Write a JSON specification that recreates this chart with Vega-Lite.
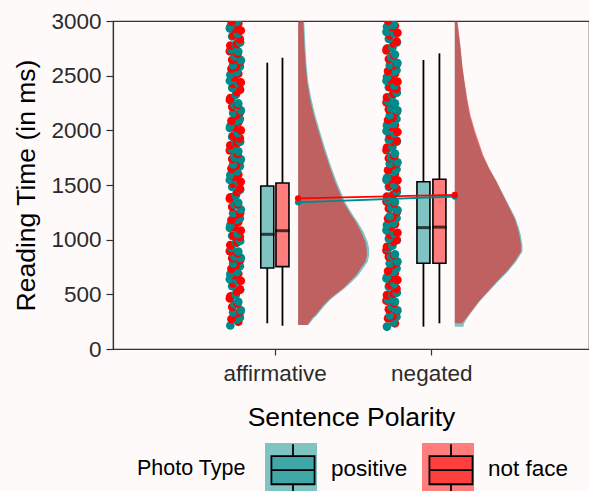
{
"$schema":"https://vega.github.io/schema/vega-lite/v6.json",
"width":476,"height":328,
"autosize":{"type":"none"},
"padding":{"left":113,"top":21,"right":0,"bottom":142},
"background":"#fffafa",
"config":{"font":"Liberation Sans","view":{"stroke":"#333333","strokeWidth":1.2},
"axis":{"grid":false,"domainColor":"#333333","tickColor":"#333333","labelColor":"#2b2b2b","titleColor":"#000000","titleFontWeight":"normal","domainWidth":1.2,"tickWidth":1.2,"labelFlush":false}},
"datasets":{
"points":[
{"photo":"positive","x":0.717,"rt":215},{"photo":"not face","x":0.768,"rt":250},
{"photo":"positive","x":0.759,"rt":271},{"photo":"not face","x":0.724,"rt":274},
{"photo":"positive","x":0.778,"rt":288},{"photo":"not face","x":0.752,"rt":325},
{"photo":"positive","x":0.735,"rt":335},{"photo":"not face","x":0.780,"rt":338},
{"photo":"positive","x":0.784,"rt":353},{"photo":"not face","x":0.729,"rt":384},
{"photo":"positive","x":0.744,"rt":408},{"photo":"not face","x":0.764,"rt":417},
{"photo":"positive","x":0.768,"rt":432},{"photo":"not face","x":0.714,"rt":463},
{"photo":"positive","x":0.724,"rt":483},{"photo":"not face","x":0.717,"rt":480},
{"photo":"positive","x":0.752,"rt":496},{"photo":"not face","x":0.759,"rt":527},
{"photo":"positive","x":0.780,"rt":542},{"photo":"not face","x":0.778,"rt":545},
{"photo":"positive","x":0.729,"rt":575},{"photo":"not face","x":0.735,"rt":600},
{"photo":"positive","x":0.764,"rt":621},{"photo":"not face","x":0.784,"rt":624},
{"photo":"positive","x":0.714,"rt":638},{"photo":"not face","x":0.744,"rt":675},
{"photo":"positive","x":0.717,"rt":685},{"photo":"not face","x":0.768,"rt":688},
{"photo":"positive","x":0.759,"rt":703},{"photo":"not face","x":0.724,"rt":734},
{"photo":"positive","x":0.778,"rt":758},{"photo":"not face","x":0.752,"rt":767},
{"photo":"positive","x":0.735,"rt":782},{"photo":"not face","x":0.780,"rt":813},
{"photo":"positive","x":0.784,"rt":833},{"photo":"not face","x":0.729,"rt":830},
{"photo":"positive","x":0.744,"rt":846},{"photo":"not face","x":0.764,"rt":877},
{"photo":"positive","x":0.768,"rt":892},{"photo":"not face","x":0.714,"rt":895},
{"photo":"positive","x":0.724,"rt":925},{"photo":"not face","x":0.717,"rt":950},
{"photo":"positive","x":0.752,"rt":971},{"photo":"not face","x":0.759,"rt":974},
{"photo":"positive","x":0.780,"rt":988},{"photo":"not face","x":0.778,"rt":1025},
{"photo":"positive","x":0.729,"rt":1035},{"photo":"not face","x":0.735,"rt":1038},
{"photo":"positive","x":0.764,"rt":1053},{"photo":"not face","x":0.784,"rt":1084},
{"photo":"positive","x":0.714,"rt":1108},{"photo":"not face","x":0.744,"rt":1117},
{"photo":"positive","x":0.717,"rt":1132},{"photo":"not face","x":0.768,"rt":1163},
{"photo":"positive","x":0.759,"rt":1183},{"photo":"not face","x":0.724,"rt":1180},
{"photo":"positive","x":0.778,"rt":1196},{"photo":"not face","x":0.752,"rt":1227},
{"photo":"positive","x":0.735,"rt":1242},{"photo":"not face","x":0.780,"rt":1245},
{"photo":"positive","x":0.784,"rt":1275},{"photo":"not face","x":0.729,"rt":1300},
{"photo":"positive","x":0.744,"rt":1321},{"photo":"not face","x":0.764,"rt":1324},
{"photo":"positive","x":0.768,"rt":1338},{"photo":"not face","x":0.714,"rt":1375},
{"photo":"positive","x":0.724,"rt":1385},{"photo":"not face","x":0.717,"rt":1388},
{"photo":"positive","x":0.752,"rt":1403},{"photo":"not face","x":0.759,"rt":1434},
{"photo":"positive","x":0.780,"rt":1458},{"photo":"not face","x":0.778,"rt":1467},
{"photo":"positive","x":0.729,"rt":1482},{"photo":"not face","x":0.735,"rt":1513},
{"photo":"positive","x":0.764,"rt":1533},{"photo":"not face","x":0.784,"rt":1530},
{"photo":"positive","x":0.714,"rt":1546},{"photo":"not face","x":0.744,"rt":1577},
{"photo":"positive","x":0.717,"rt":1592},{"photo":"not face","x":0.768,"rt":1595},
{"photo":"positive","x":0.759,"rt":1625},{"photo":"not face","x":0.724,"rt":1650},
{"photo":"positive","x":0.778,"rt":1671},{"photo":"not face","x":0.752,"rt":1674},
{"photo":"positive","x":0.735,"rt":1688},{"photo":"not face","x":0.780,"rt":1725},
{"photo":"positive","x":0.784,"rt":1735},{"photo":"not face","x":0.729,"rt":1738},
{"photo":"positive","x":0.744,"rt":1753},{"photo":"not face","x":0.764,"rt":1784},
{"photo":"positive","x":0.768,"rt":1808},{"photo":"not face","x":0.714,"rt":1817},
{"photo":"positive","x":0.724,"rt":1832},{"photo":"not face","x":0.717,"rt":1863},
{"photo":"positive","x":0.752,"rt":1883},{"photo":"not face","x":0.759,"rt":1880},
{"photo":"positive","x":0.780,"rt":1896},{"photo":"not face","x":0.778,"rt":1927},
{"photo":"positive","x":0.729,"rt":1942},{"photo":"not face","x":0.735,"rt":1945},
{"photo":"positive","x":0.764,"rt":1975},{"photo":"not face","x":0.784,"rt":2000},
{"photo":"positive","x":0.714,"rt":2021},{"photo":"not face","x":0.744,"rt":2024},
{"photo":"positive","x":0.717,"rt":2038},{"photo":"not face","x":0.768,"rt":2075},
{"photo":"positive","x":0.759,"rt":2085},{"photo":"not face","x":0.724,"rt":2088},
{"photo":"positive","x":0.778,"rt":2103},{"photo":"not face","x":0.752,"rt":2134},
{"photo":"positive","x":0.735,"rt":2158},{"photo":"not face","x":0.780,"rt":2167},
{"photo":"positive","x":0.784,"rt":2182},{"photo":"not face","x":0.729,"rt":2213},
{"photo":"positive","x":0.744,"rt":2233},{"photo":"not face","x":0.764,"rt":2230},
{"photo":"positive","x":0.768,"rt":2246},{"photo":"not face","x":0.714,"rt":2277},
{"photo":"positive","x":0.724,"rt":2292},{"photo":"not face","x":0.717,"rt":2295},
{"photo":"positive","x":0.752,"rt":2325},{"photo":"not face","x":0.759,"rt":2350},
{"photo":"positive","x":0.780,"rt":2371},{"photo":"not face","x":0.778,"rt":2374},
{"photo":"positive","x":0.729,"rt":2388},{"photo":"not face","x":0.735,"rt":2425},
{"photo":"positive","x":0.764,"rt":2435},{"photo":"not face","x":0.784,"rt":2438},
{"photo":"positive","x":0.714,"rt":2453},{"photo":"not face","x":0.744,"rt":2484},
{"photo":"positive","x":0.717,"rt":2508},{"photo":"not face","x":0.768,"rt":2517},
{"photo":"positive","x":0.759,"rt":2532},{"photo":"not face","x":0.724,"rt":2563},
{"photo":"positive","x":0.778,"rt":2583},{"photo":"not face","x":0.752,"rt":2580},
{"photo":"positive","x":0.735,"rt":2596},{"photo":"not face","x":0.780,"rt":2627},
{"photo":"positive","x":0.784,"rt":2642},{"photo":"not face","x":0.729,"rt":2645},
{"photo":"positive","x":0.744,"rt":2675},{"photo":"not face","x":0.764,"rt":2700},
{"photo":"positive","x":0.768,"rt":2721},{"photo":"not face","x":0.714,"rt":2724},
{"photo":"positive","x":0.724,"rt":2738},{"photo":"not face","x":0.717,"rt":2775},
{"photo":"positive","x":0.752,"rt":2785},{"photo":"not face","x":0.759,"rt":2788},
{"photo":"positive","x":0.780,"rt":2803},{"photo":"not face","x":0.778,"rt":2834},
{"photo":"positive","x":0.729,"rt":2858},{"photo":"not face","x":0.735,"rt":2867},
{"photo":"positive","x":0.764,"rt":2882},{"photo":"not face","x":0.784,"rt":2913},
{"photo":"positive","x":0.714,"rt":2933},{"photo":"not face","x":0.744,"rt":2930},
{"photo":"positive","x":0.717,"rt":2946},{"photo":"not face","x":0.768,"rt":2977},
{"photo":"positive","x":0.759,"rt":2992},{"photo":"not face","x":0.724,"rt":2995},
{"photo":"positive","x":1.717,"rt":205},{"photo":"not face","x":1.768,"rt":235},
{"photo":"positive","x":1.759,"rt":244},{"photo":"not face","x":1.724,"rt":281},
{"photo":"positive","x":1.778,"rt":295},{"photo":"not face","x":1.752,"rt":298},
{"photo":"positive","x":1.735,"rt":308},{"photo":"not face","x":1.780,"rt":345},
{"photo":"positive","x":1.784,"rt":354},{"photo":"not face","x":1.729,"rt":363},
{"photo":"positive","x":1.744,"rt":387},{"photo":"not face","x":1.764,"rt":418},
{"photo":"positive","x":1.768,"rt":433},{"photo":"not face","x":1.714,"rt":442},
{"photo":"positive","x":1.724,"rt":450},{"photo":"not face","x":1.717,"rt":493},
{"photo":"positive","x":1.752,"rt":497},{"photo":"not face","x":1.759,"rt":506},
{"photo":"positive","x":1.780,"rt":515},{"photo":"not face","x":1.778,"rt":552},
{"photo":"positive","x":1.729,"rt":570},{"photo":"not face","x":1.735,"rt":585},
{"photo":"positive","x":1.764,"rt":594},{"photo":"not face","x":1.784,"rt":631},
{"photo":"positive","x":1.714,"rt":645},{"photo":"not face","x":1.744,"rt":648},
{"photo":"positive","x":1.717,"rt":658},{"photo":"not face","x":1.768,"rt":695},
{"photo":"positive","x":1.759,"rt":704},{"photo":"not face","x":1.724,"rt":713},
{"photo":"positive","x":1.778,"rt":737},{"photo":"not face","x":1.752,"rt":768},
{"photo":"positive","x":1.735,"rt":783},{"photo":"not face","x":1.780,"rt":792},
{"photo":"positive","x":1.784,"rt":800},{"photo":"not face","x":1.729,"rt":843},
{"photo":"positive","x":1.744,"rt":847},{"photo":"not face","x":1.764,"rt":856},
{"photo":"positive","x":1.768,"rt":865},{"photo":"not face","x":1.714,"rt":902},
{"photo":"positive","x":1.724,"rt":920},{"photo":"not face","x":1.717,"rt":935},
{"photo":"positive","x":1.752,"rt":944},{"photo":"not face","x":1.759,"rt":981},
{"photo":"positive","x":1.780,"rt":995},{"photo":"not face","x":1.778,"rt":998},
{"photo":"positive","x":1.729,"rt":1008},{"photo":"not face","x":1.735,"rt":1045},
{"photo":"positive","x":1.764,"rt":1054},{"photo":"not face","x":1.784,"rt":1063},
{"photo":"positive","x":1.714,"rt":1087},{"photo":"not face","x":1.744,"rt":1118},
{"photo":"positive","x":1.717,"rt":1133},{"photo":"not face","x":1.768,"rt":1142},
{"photo":"positive","x":1.759,"rt":1150},{"photo":"not face","x":1.724,"rt":1193},
{"photo":"positive","x":1.778,"rt":1197},{"photo":"not face","x":1.752,"rt":1206},
{"photo":"positive","x":1.735,"rt":1215},{"photo":"not face","x":1.780,"rt":1252},
{"photo":"positive","x":1.784,"rt":1270},{"photo":"not face","x":1.729,"rt":1285},
{"photo":"positive","x":1.744,"rt":1294},{"photo":"not face","x":1.764,"rt":1331},
{"photo":"positive","x":1.768,"rt":1345},{"photo":"not face","x":1.714,"rt":1348},
{"photo":"positive","x":1.724,"rt":1358},{"photo":"not face","x":1.717,"rt":1395},
{"photo":"positive","x":1.752,"rt":1404},{"photo":"not face","x":1.759,"rt":1413},
{"photo":"positive","x":1.780,"rt":1437},{"photo":"not face","x":1.778,"rt":1468},
{"photo":"positive","x":1.729,"rt":1483},{"photo":"not face","x":1.735,"rt":1492},
{"photo":"positive","x":1.764,"rt":1500},{"photo":"not face","x":1.784,"rt":1543},
{"photo":"positive","x":1.714,"rt":1547},{"photo":"not face","x":1.744,"rt":1556},
{"photo":"positive","x":1.717,"rt":1565},{"photo":"not face","x":1.768,"rt":1602},
{"photo":"positive","x":1.759,"rt":1620},{"photo":"not face","x":1.724,"rt":1635},
{"photo":"positive","x":1.778,"rt":1644},{"photo":"not face","x":1.752,"rt":1681},
{"photo":"positive","x":1.735,"rt":1695},{"photo":"not face","x":1.780,"rt":1698},
{"photo":"positive","x":1.784,"rt":1708},{"photo":"not face","x":1.729,"rt":1745},
{"photo":"positive","x":1.744,"rt":1754},{"photo":"not face","x":1.764,"rt":1763},
{"photo":"positive","x":1.768,"rt":1787},{"photo":"not face","x":1.714,"rt":1818},
{"photo":"positive","x":1.724,"rt":1833},{"photo":"not face","x":1.717,"rt":1842},
{"photo":"positive","x":1.752,"rt":1850},{"photo":"not face","x":1.759,"rt":1893},
{"photo":"positive","x":1.780,"rt":1897},{"photo":"not face","x":1.778,"rt":1906},
{"photo":"positive","x":1.729,"rt":1915},{"photo":"not face","x":1.735,"rt":1952},
{"photo":"positive","x":1.764,"rt":1970},{"photo":"not face","x":1.784,"rt":1985},
{"photo":"positive","x":1.714,"rt":1994},{"photo":"not face","x":1.744,"rt":2031},
{"photo":"positive","x":1.717,"rt":2045},{"photo":"not face","x":1.768,"rt":2048},
{"photo":"positive","x":1.759,"rt":2058},{"photo":"not face","x":1.724,"rt":2095},
{"photo":"positive","x":1.778,"rt":2104},{"photo":"not face","x":1.752,"rt":2113},
{"photo":"positive","x":1.735,"rt":2137},{"photo":"not face","x":1.780,"rt":2168},
{"photo":"positive","x":1.784,"rt":2183},{"photo":"not face","x":1.729,"rt":2192},
{"photo":"positive","x":1.744,"rt":2200},{"photo":"not face","x":1.764,"rt":2243},
{"photo":"positive","x":1.768,"rt":2247},{"photo":"not face","x":1.714,"rt":2256},
{"photo":"positive","x":1.724,"rt":2265},{"photo":"not face","x":1.717,"rt":2302},
{"photo":"positive","x":1.752,"rt":2320},{"photo":"not face","x":1.759,"rt":2335},
{"photo":"positive","x":1.780,"rt":2344},{"photo":"not face","x":1.778,"rt":2381},
{"photo":"positive","x":1.729,"rt":2395},{"photo":"not face","x":1.735,"rt":2398},
{"photo":"positive","x":1.764,"rt":2408},{"photo":"not face","x":1.784,"rt":2445},
{"photo":"positive","x":1.714,"rt":2454},{"photo":"not face","x":1.744,"rt":2463},
{"photo":"positive","x":1.717,"rt":2487},{"photo":"not face","x":1.768,"rt":2518},
{"photo":"positive","x":1.759,"rt":2533},{"photo":"not face","x":1.724,"rt":2542},
{"photo":"positive","x":1.778,"rt":2550},{"photo":"not face","x":1.752,"rt":2593},
{"photo":"positive","x":1.735,"rt":2597},{"photo":"not face","x":1.780,"rt":2606},
{"photo":"positive","x":1.784,"rt":2615},{"photo":"not face","x":1.729,"rt":2652},
{"photo":"positive","x":1.744,"rt":2670},{"photo":"not face","x":1.764,"rt":2685},
{"photo":"positive","x":1.768,"rt":2694},{"photo":"not face","x":1.714,"rt":2731},
{"photo":"positive","x":1.724,"rt":2745},{"photo":"not face","x":1.717,"rt":2748},
{"photo":"positive","x":1.752,"rt":2758},{"photo":"not face","x":1.759,"rt":2795},
{"photo":"positive","x":1.780,"rt":2804},{"photo":"not face","x":1.778,"rt":2813},
{"photo":"positive","x":1.729,"rt":2837},{"photo":"not face","x":1.735,"rt":2868},
{"photo":"positive","x":1.764,"rt":2883},{"photo":"not face","x":1.784,"rt":2892},
{"photo":"positive","x":1.714,"rt":2900},{"photo":"not face","x":1.744,"rt":2943},
{"photo":"positive","x":1.717,"rt":2947},{"photo":"not face","x":1.768,"rt":2956},
{"photo":"positive","x":1.759,"rt":2965},{"photo":"not face","x":1.724,"rt":3002}
],
"violin_aff":[
{"photo":"positive","rt":220,"x":1.216},{"photo":"positive","rt":281,"x":1.249},{"photo":"positive","rt":311,"x":1.271},{"photo":"positive","rt":402,"x":1.323},{"photo":"positive","rt":463,"x":1.364},{"photo":"positive","rt":555,"x":1.448},{"photo":"positive","rt":616,"x":1.494},{"photo":"positive","rt":677,"x":1.536},{"photo":"positive","rt":738,"x":1.565},{"photo":"positive","rt":799,"x":1.594},{"photo":"positive","rt":860,"x":1.604},{"photo":"positive","rt":921,"x":1.603},{"photo":"positive","rt":981,"x":1.594},{"photo":"positive","rt":1073,"x":1.567},{"photo":"positive","rt":1165,"x":1.529},{"photo":"positive","rt":1226,"x":1.499},{"photo":"positive","rt":1348,"x":1.448},{"photo":"positive","rt":1439,"x":1.423},{"photo":"positive","rt":1530,"x":1.396},{"photo":"positive","rt":1683,"x":1.357},{"photo":"positive","rt":1836,"x":1.322},{"photo":"positive","rt":1988,"x":1.29},{"photo":"positive","rt":2140,"x":1.259},{"photo":"positive","rt":2293,"x":1.234},{"photo":"positive","rt":2446,"x":1.214},{"photo":"positive","rt":2598,"x":1.204},{"photo":"positive","rt":2751,"x":1.197},{"photo":"positive","rt":2963,"x":1.19},{"photo":"positive","rt":3000,"x":1.187},
{"photo":"not face","rt":220,"x":1.2081},{"photo":"not face","rt":281,"x":1.2394},{"photo":"not face","rt":311,"x":1.2606},{"photo":"not face","rt":402,"x":1.3125},{"photo":"not face","rt":463,"x":1.3544},{"photo":"not face","rt":555,"x":1.4375},{"photo":"not face","rt":616,"x":1.4794},{"photo":"not face","rt":677,"x":1.5206},{"photo":"not face","rt":738,"x":1.55},{"photo":"not face","rt":799,"x":1.5794},{"photo":"not face","rt":860,"x":1.5894},{"photo":"not face","rt":921,"x":1.5875},{"photo":"not face","rt":981,"x":1.5794},{"photo":"not face","rt":1073,"x":1.5519},{"photo":"not face","rt":1165,"x":1.5188},{"photo":"not face","rt":1226,"x":1.4894},{"photo":"not face","rt":1348,"x":1.4375},{"photo":"not face","rt":1439,"x":1.4125},{"photo":"not face","rt":1530,"x":1.3856},{"photo":"not face","rt":1683,"x":1.3481},{"photo":"not face","rt":1836,"x":1.3125},{"photo":"not face","rt":1988,"x":1.2813},{"photo":"not face","rt":2140,"x":1.25},{"photo":"not face","rt":2293,"x":1.225},{"photo":"not face","rt":2446,"x":1.2081},{"photo":"not face","rt":2598,"x":1.1981},{"photo":"not face","rt":2751,"x":1.1906},{"photo":"not face","rt":2963,"x":1.1844},{"photo":"not face","rt":3000,"x":1.1813}
],
"violin_neg":[
{"photo":"positive","rt":204,"x":2.205},{"photo":"positive","rt":235,"x":2.21},{"photo":"positive","rt":311,"x":2.243},{"photo":"positive","rt":433,"x":2.307},{"photo":"positive","rt":616,"x":2.425},{"photo":"positive","rt":707,"x":2.488},{"photo":"positive","rt":799,"x":2.541},{"photo":"positive","rt":891,"x":2.582},{"photo":"positive","rt":951,"x":2.582},{"photo":"positive","rt":1043,"x":2.571},{"photo":"positive","rt":1104,"x":2.56},{"photo":"positive","rt":1196,"x":2.538},{"photo":"positive","rt":1287,"x":2.505},{"photo":"positive","rt":1409,"x":2.461},{"photo":"positive","rt":1530,"x":2.418},{"photo":"positive","rt":1652,"x":2.369},{"photo":"positive","rt":1774,"x":2.326},{"photo":"positive","rt":1988,"x":2.275},{"photo":"positive","rt":2140,"x":2.245},{"photo":"positive","rt":2293,"x":2.226},{"photo":"positive","rt":2446,"x":2.211},{"photo":"positive","rt":2598,"x":2.197},{"photo":"positive","rt":2751,"x":2.187},{"photo":"positive","rt":3000,"x":2.166},
{"photo":"not face","rt":235,"x":2.196},{"photo":"not face","rt":311,"x":2.2394},{"photo":"not face","rt":433,"x":2.3019},{"photo":"not face","rt":616,"x":2.4169},{"photo":"not face","rt":707,"x":2.4794},{"photo":"not face","rt":799,"x":2.5313},{"photo":"not face","rt":891,"x":2.5731},{"photo":"not face","rt":951,"x":2.5731},{"photo":"not face","rt":1043,"x":2.5625},{"photo":"not face","rt":1104,"x":2.5519},{"photo":"not face","rt":1196,"x":2.5313},{"photo":"not face","rt":1287,"x":2.5},{"photo":"not face","rt":1409,"x":2.4581},{"photo":"not face","rt":1530,"x":2.4169},{"photo":"not face","rt":1652,"x":2.3706},{"photo":"not face","rt":1774,"x":2.3313},{"photo":"not face","rt":1988,"x":2.2813},{"photo":"not face","rt":2140,"x":2.25},{"photo":"not face","rt":2293,"x":2.2294},{"photo":"not face","rt":2446,"x":2.2125},{"photo":"not face","rt":2598,"x":2.1981},{"photo":"not face","rt":2751,"x":2.1875},{"photo":"not face","rt":3000,"x":2.1669}
],
"boxes":[
{"polarity":"affirmative","photo":"positive","x":0.953,"lower":235,"q1":741,"median":1049,"q3":1491,"upper":2619},
{"polarity":"affirmative","photo":"not face","x":1.05,"lower":213,"q1":753,"median":1082,"q3":1518,"upper":2664},
{"polarity":"negated","photo":"positive","x":1.95,"lower":204,"q1":784,"median":1110,"q3":1530,"upper":2643},
{"polarity":"negated","photo":"not face","x":2.052,"lower":235,"q1":784,"median":1115,"q3":1552,"upper":2704}
],
"means":[
{"polarity":"affirmative","photo":"positive","x":1.15,"rt":1342},
{"polarity":"negated","photo":"positive","x":2.15,"rt":1395},
{"polarity":"affirmative","photo":"not face","x":1.15,"rt":1378},
{"polarity":"negated","photo":"not face","x":2.15,"rt":1409}
]
},
"layer":[
{"data":{"name":"violin_aff"},"transform":[{"filter":"datum.photo == 'positive'"}],
 "mark":{"type":"area","orient":"horizontal","opacity":0.5},
 "encoding":{
  "y":{"field":"rt","type":"quantitative","scale":{"domain":[0,3000],"nice":false},"axis":{"values":[0,500,1000,1500,2000,2500,3000],"format":"d","labelFontSize":22.5,"tickSize":7,"labelPadding":5,"titleFontSize":26.5,"titlePadding":10},"title":"Reading Time (in ms)"},
  "x":{"field":"x","type":"quantitative","stack":null,"scale":{"domain":[0,2.975],"nice":false,"zero":false},"axis":{"values":[1,2],"labelExpr":"datum.value == 1 ? 'affirmative' : 'negated'","labelFontSize":22.5,"tickSize":6,"labelPadding":7,"titleFontSize":26.5,"titlePadding":20},"title":"Sentence Polarity"},
  "x2":{"datum":1.15},
  "color":{"field":"photo","type":"nominal","scale":{"domain":["positive","not face"],"range":["#008b8b","#ff0000"]},
   "legend":{"title":"Photo Type","orient":"none","legendX":24,"legendY":422,"direction":"horizontal","titleOrient":"left","titleAnchor":"middle","titleBaseline":"middle","titleFontSize":21.5,"titleFontWeight":"normal","titleColor":"#000000","labelFontSize":22.5,"labelColor":"#000000","symbolType":"square","symbolSize":2704,"symbolOpacity":0.5,"symbolStrokeWidth":0,"labelOffset":14,"columnPadding":14,"titlePadding":19}}
 }},
{"data":{"name":"violin_aff"},"transform":[{"filter":"datum.photo == 'not face'"}],
 "mark":{"type":"area","orient":"horizontal","opacity":0.5},
 "encoding":{"y":{"field":"rt","type":"quantitative","title":"Reading Time (in ms)"},"x":{"field":"x","type":"quantitative","stack":null,"title":"Sentence Polarity"},"x2":{"datum":1.15},"color":{"field":"photo","type":"nominal"}}},
{"data":{"name":"violin_neg"},"transform":[{"filter":"datum.photo == 'positive'"}],
 "mark":{"type":"area","orient":"horizontal","opacity":0.5},
 "encoding":{"y":{"field":"rt","type":"quantitative","title":"Reading Time (in ms)"},"x":{"field":"x","type":"quantitative","stack":null,"title":"Sentence Polarity"},"x2":{"datum":2.15},"color":{"field":"photo","type":"nominal"}}},
{"data":{"name":"violin_neg"},"transform":[{"filter":"datum.photo == 'not face'"}],
 "mark":{"type":"area","orient":"horizontal","opacity":0.5},
 "encoding":{"y":{"field":"rt","type":"quantitative","title":"Reading Time (in ms)"},"x":{"field":"x","type":"quantitative","stack":null,"title":"Sentence Polarity"},"x2":{"datum":2.15},"color":{"field":"photo","type":"nominal"}}},
{"data":{"name":"points"},
 "mark":{"type":"circle","size":75,"opacity":1,"clip":true},
 "encoding":{"y":{"field":"rt","type":"quantitative","title":"Reading Time (in ms)"},"x":{"field":"x","type":"quantitative","title":"Sentence Polarity"},"color":{"field":"photo","type":"nominal"}}},
{"data":{"name":"boxes"},
 "mark":{"type":"rule","color":"#000000","strokeWidth":1.8},
 "encoding":{"y":{"field":"lower","type":"quantitative","title":"Reading Time (in ms)"},"y2":{"field":"q1"},"x":{"field":"x","type":"quantitative","title":"Sentence Polarity"}}},
{"data":{"name":"boxes"},
 "mark":{"type":"rule","color":"#000000","strokeWidth":1.8},
 "encoding":{"y":{"field":"q3","type":"quantitative","title":"Reading Time (in ms)"},"y2":{"field":"upper"},"x":{"field":"x","type":"quantitative","title":"Sentence Polarity"}}},
{"data":{"name":"boxes"},
 "mark":{"type":"bar","width":13,"stroke":"#000000","strokeWidth":1.6},
 "encoding":{"y":{"field":"q1","type":"quantitative","title":"Reading Time (in ms)"},"y2":{"field":"q3"},"x":{"field":"x","type":"quantitative","title":"Sentence Polarity"},
  "fill":{"field":"photo","type":"nominal","sort":["positive","not face"],"scale":{"range":["rgba(0,139,139,0.5)","rgba(255,0,0,0.5)"]},
   "legend":{"title":null,"orient":"none","legendX":153,"legendY":422,"direction":"horizontal","labelExpr":"''","labelFontSize":22.5,"symbolType":"M-0.83,-0.54H0.83V0.54H-0.83Z M0,-0.54V-1 M0,0.54V1 M-0.83,0H0.83","symbolSize":2704,"symbolOpacity":1,"symbolStrokeColor":"#000000","symbolStrokeWidth":1.8,"labelOffset":0,"columnPadding":104,"zindex":1}}}},
{"data":{"name":"boxes"},
 "mark":{"type":"tick","orient":"horizontal","size":14.5,"thickness":3,"color":"#000000"},
 "encoding":{"y":{"field":"median","type":"quantitative","title":"Reading Time (in ms)"},"x":{"field":"x","type":"quantitative","title":"Sentence Polarity"}}},
{"data":{"name":"means"},"transform":[{"filter":"datum.photo == 'positive'"}],
 "mark":{"type":"line","strokeWidth":1.8},
 "encoding":{"y":{"field":"rt","type":"quantitative","title":"Reading Time (in ms)"},"x":{"field":"x","type":"quantitative","title":"Sentence Polarity"},"color":{"field":"photo","type":"nominal"}}},
{"data":{"name":"means"},"transform":[{"filter":"datum.photo == 'not face'"}],
 "mark":{"type":"line","strokeWidth":1.8},
 "encoding":{"y":{"field":"rt","type":"quantitative","title":"Reading Time (in ms)"},"x":{"field":"x","type":"quantitative","title":"Sentence Polarity"},"color":{"field":"photo","type":"nominal"}}},
{"data":{"name":"means"},
 "mark":{"type":"circle","size":40,"opacity":1},
 "encoding":{"y":{"field":"rt","type":"quantitative","title":"Reading Time (in ms)"},"x":{"field":"x","type":"quantitative","title":"Sentence Polarity"},"color":{"field":"photo","type":"nominal"}}}
]
}
